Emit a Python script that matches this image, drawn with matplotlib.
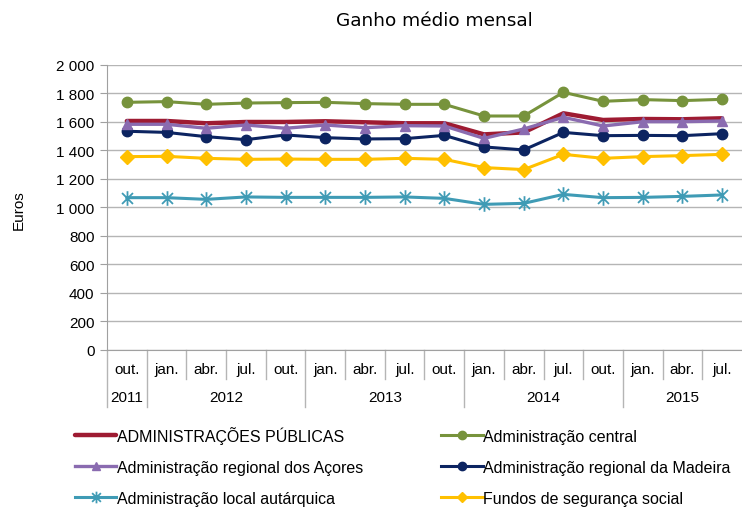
import matplotlib
matplotlib.use("Agg")
import matplotlib.pyplot as plt
from matplotlib.path import Path
from matplotlib.ticker import FuncFormatter

months = ["out.", "jan.", "abr.", "jul.", "out.", "jan.", "abr.", "jul.", "out.",
          "jan.", "abr.", "jul.", "out.", "jan.", "abr.", "jul."]
years = ["2011", "2012", "2013", "2014", "2015"]
year_counts = [1, 4, 4, 4, 3]

adm_publicas = [1607, 1607, 1591, 1600, 1600, 1605, 1598, 1591, 1591, 1513, 1527, 1661, 1614, 1621, 1619, 1626]
adm_central = [1738, 1743, 1724, 1733, 1736, 1738, 1729, 1724, 1724, 1642, 1642, 1808, 1745, 1757, 1750, 1759]
adm_acores = [1584, 1584, 1556, 1579, 1556, 1579, 1560, 1574, 1572, 1485, 1551, 1633, 1572, 1602, 1602, 1607]
adm_madeira = [1535, 1527, 1497, 1476, 1509, 1490, 1481, 1483, 1506, 1425, 1404, 1527, 1504, 1506, 1504, 1518]
adm_local = [1069, 1069, 1057, 1074, 1071, 1071, 1071, 1074, 1064, 1022, 1029, 1092, 1069, 1071, 1078, 1088]
fundos_ss = [1357, 1359, 1345, 1338, 1340, 1338, 1338, 1345, 1338, 1280, 1266, 1373, 1345, 1357, 1364, 1373]

names = ["ADMINISTRAÇÕES PÚBLICAS", "Administração central", "Administração regional dos Açores",
         "Administração regional da Madeira", "Administração local autárquica", "Fundos de segurança social"]

plt.rcParams['font.family'] = ['Liberation Sans', 'DejaVu Sans']

fig = plt.figure(figsize=(7.42, 5.10), dpi=100)
ax = fig.add_axes([0.1442, 0.3118, 0.8558, 0.5588])

x = list(range(len(months)))

# asterisk marker: vertical line + X
star = Path([(0, -1), (0, 1), (-0.75, -0.75), (0.75, 0.75), (-0.75, 0.75), (0.75, -0.75)],
            [Path.MOVETO, Path.LINETO, Path.MOVETO, Path.LINETO, Path.MOVETO, Path.LINETO])

h_pub, = ax.plot(x, adm_publicas, color="#9e1b32", lw=3.2, solid_capstyle='round', zorder=3)
h_cen, = ax.plot(x, adm_central, color="#77933c", lw=2.2, marker='o', ms=7.5, zorder=3)
h_aco, = ax.plot(x, adm_acores, color="#8a6bb0", lw=2.4, marker='^', ms=7.5, zorder=4)
h_mad, = ax.plot(x, adm_madeira, color="#0c2461", lw=2.2, marker='o', ms=7.5, zorder=3)
h_loc, = ax.plot(x, adm_local, color="#3f9bb5", lw=2.2, marker=star, ms=10.5, mew=1.3, zorder=3)
h_fun, = ax.plot(x, fundos_ss, color="#ffc000", lw=2.2, marker='D', ms=7, zorder=3)

ax.set_xlim(-0.5, 15.5)
ax.set_ylim(0, 2000)
ax.set_yticks(range(0, 2001, 200))
ax.yaxis.set_major_formatter(FuncFormatter(lambda v, p: f"{int(v):,}".replace(",", " ")))
ax.grid(axis='y', color="#b5b5b5", lw=1.0, zorder=0)
for s in ["top", "right"]:
    ax.spines[s].set_visible(False)
ax.spines["left"].set_color("#a0a0a0")
ax.spines["bottom"].set_color("#a0a0a0")
ax.tick_params(axis='y', length=5, color="#a0a0a0", labelsize=11, pad=4)
ax.set_xticks([])

# category separators
xt = ax.get_xaxis_transform()
year_bounds = [-0.5]
acc = -0.5
for c in year_counts[:-1]:
    acc += c
    year_bounds.append(acc)
for i in range(len(months) - 1):
    b = i + 0.5
    if b in year_bounds:
        continue
    ax.plot([b, b], [0, -0.102], transform=xt, color="#b5b5b5", lw=1.0, clip_on=False)
for b in year_bounds:
    ax.plot([b, b], [0, -0.2], transform=xt, color="#b5b5b5", lw=1.0, clip_on=False)

for i, m in enumerate(months):
    ax.text(i, -0.067, m, transform=xt, ha='center', va='center', fontsize=11)
start = 0
for y, c in zip(years, year_counts):
    ax.text(start + (c - 1) / 2, -0.165, y, transform=xt, ha='center', va='center', fontsize=11)
    start += c

fig.text(19 / 742, 1 - 210 / 510, "Euros", rotation=90, ha='center', va='center', fontsize=11)
fig.text(0.585, 0.958, "Ganho médio mensal", ha='center', va='center', fontsize=13.3,
         family=['DejaVu Sans'])

handles = [h_pub, h_aco, h_loc, h_cen, h_mad, h_fun]
labels = [names[0], names[2], names[4], names[1], names[3], names[5]]
fig.legend(handles, labels, ncol=2, loc='upper left', bbox_to_anchor=(0.101, 0.163),
           frameon=False, fontsize=11.5, handlelength=2.6, handletextpad=0.05,
           columnspacing=4.85, labelspacing=1.0, borderaxespad=0, borderpad=0, markerscale=0.8)

fig.savefig("out.png", dpi=100)
